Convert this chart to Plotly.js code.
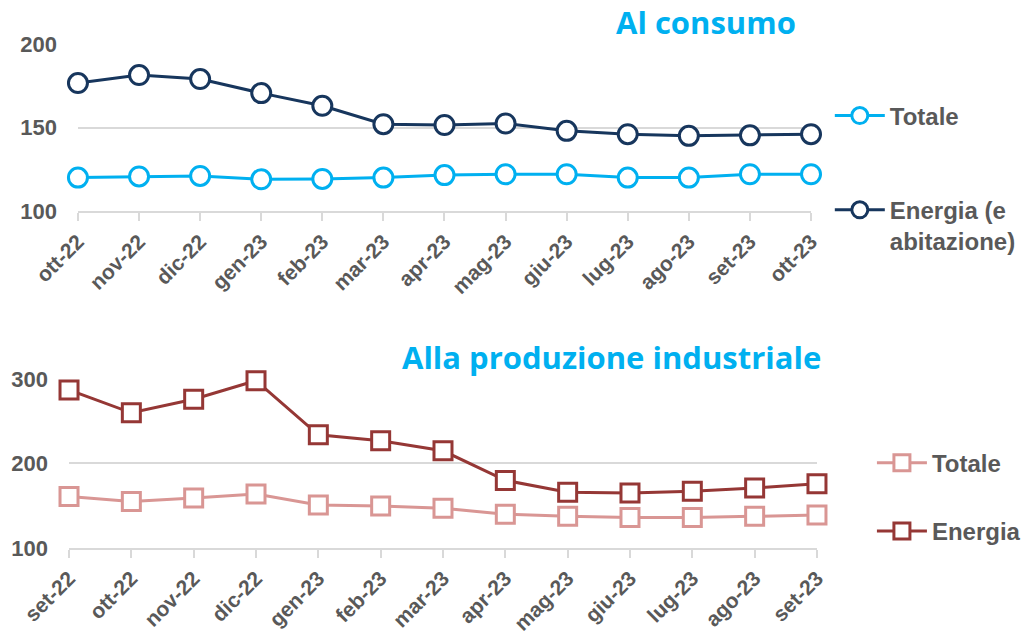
<!DOCTYPE html>
<html><head><meta charset="utf-8">
<script src="https://cdn.plot.ly/plotly-3.0.1.min.js"></script>
<style>html,body{margin:0;padding:0;background:#fff}#c{width:1027px;height:636px}</style>
</head><body><div id="c"></div>
<script>
var monthsTop = ['ott-22','nov-22','dic-22','gen-23','feb-23','mar-23','apr-23','mag-23','giu-23','lug-23','ago-23','set-23','ott-23'];
var consTotale = [120,120.7,121,119,119.2,120,121.5,122,122,120,120,122,122];
var consEnergia = [176.6,181.4,179,170.6,163,152,151.5,152.4,148,146,145,145.3,146];

var monthsBot = ['set-22','ott-22','nov-22','dic-22','gen-23','feb-23','mar-23','apr-23','mag-23','giu-23','lug-23','ago-23','set-23'];
var prodTotale = [161,155,159,164,151,149.6,147,140,137.5,136,136,137.5,139];
var prodEnergia = [287,260,276,298,234,227,215,180,166,165,167,171,176];

var tickFont = {family:'Liberation Sans, Arial, sans-serif', size:21, color:'#595959', weight:'bold'};
var legFont = {family:'Liberation Sans, Arial, sans-serif', size:24, color:'#595959', weight:'bold'};

var traces = [
  {x:monthsTop, y:consTotale, name:'Totale', type:'scatter', mode:'lines+markers', xaxis:'x', yaxis:'y', legend:'legend', legendgroup:'a', cliponaxis:false,
   line:{color:'#00B0F0', width:3}, marker:{symbol:'circle', size:19, color:'#FFFFFF', line:{color:'#00B0F0', width:3}}},
  {x:monthsTop, y:consEnergia, name:'Energia (e<br>abitazione)', type:'scatter', mode:'lines+markers', xaxis:'x', yaxis:'y', legend:'legend', legendgroup:'b', cliponaxis:false,
   line:{color:'#17365D', width:3}, marker:{symbol:'circle', size:19, color:'#FFFFFF', line:{color:'#17365D', width:3}}},
  {x:monthsBot, y:prodTotale, name:'Totale', type:'scatter', mode:'lines+markers', xaxis:'x2', yaxis:'y2', legend:'legend2', legendgroup:'c', cliponaxis:false,
   line:{color:'#D99694', width:3}, marker:{symbol:'square', size:18, color:'#FFFFFF', line:{color:'#D99694', width:3}}},
  {x:monthsBot, y:prodEnergia, name:'Energia', type:'scatter', mode:'lines+markers', xaxis:'x2', yaxis:'y2', legend:'legend2', legendgroup:'d', cliponaxis:false,
   line:{color:'#953735', width:3}, marker:{symbol:'square', size:18, color:'#FFFFFF', line:{color:'#953735', width:3}}}
];

function xax(dom, anchor){
  return {domain:dom, anchor:anchor, type:'category', range:[0,12], tickangle:-45, tickfont:tickFont,
    showgrid:false, showline:true, linecolor:'#D9D9D9', linewidth:2, ticks:'outside', ticklen:8, tickcolor:'#D9D9D9', tickwidth:2,
    zeroline:false, fixedrange:true};
}
function yax(dom, anchor, rng, dt){
  return {domain:dom, anchor:anchor, range:rng, dtick:dt, tick0:100, tickfont:Object.assign({}, tickFont, {size:22}),
    showgrid:true, gridcolor:'#D9D9D9', gridwidth:2, showline:false, zeroline:false, ticks:'', ticklabelstandoff:20};
}

var layout = {
  width:1027, height:636, paper_bgcolor:'#FFFFFF', plot_bgcolor:'#FFFFFF',
  margin:{l:0, r:0, t:0, b:0},
  showlegend:true,
  xaxis: xax([0.0759, 0.7897], 'y'),
  yaxis: yax([0.6682, 0.9308], 'x', [100,200], 50),
  xaxis2: xax([0.0672, 0.7955], 'y2'),
  yaxis2: yax([0.1384, 0.4041], 'x2', [100,300], 100),
  legend:{x:0.808, y:0.853, xanchor:'left', yanchor:'top', font:legFont, itemwidth:50, tracegroupgap:60, valign:'top', bgcolor:'rgba(0,0,0,0)'},
  legend2:{x:0.849, y:0.307, xanchor:'left', yanchor:'top', font:legFont, itemwidth:50, tracegroupgap:34, bgcolor:'rgba(0,0,0,0)'},
  annotations:[
    {text:'Al consumo', xref:'paper', yref:'paper', x:0.777, y:(636-22)/636, xanchor:'right', yanchor:'middle', showarrow:false,
     font:{family:'Open Sans, sans-serif', size:31, color:'#00B0F0', weight:'bold'}},
    {text:'Alla produzione industriale', xref:'paper', yref:'paper', x:0.801, y:(636-357)/636, xanchor:'right', yanchor:'middle', showarrow:false,
     font:{family:'Open Sans, sans-serif', size:31, color:'#00B0F0', weight:'bold'}}
  ]
};
Plotly.newPlot('c', traces, layout, {staticPlot:true, displayModeBar:false});
</script>
</body></html>
